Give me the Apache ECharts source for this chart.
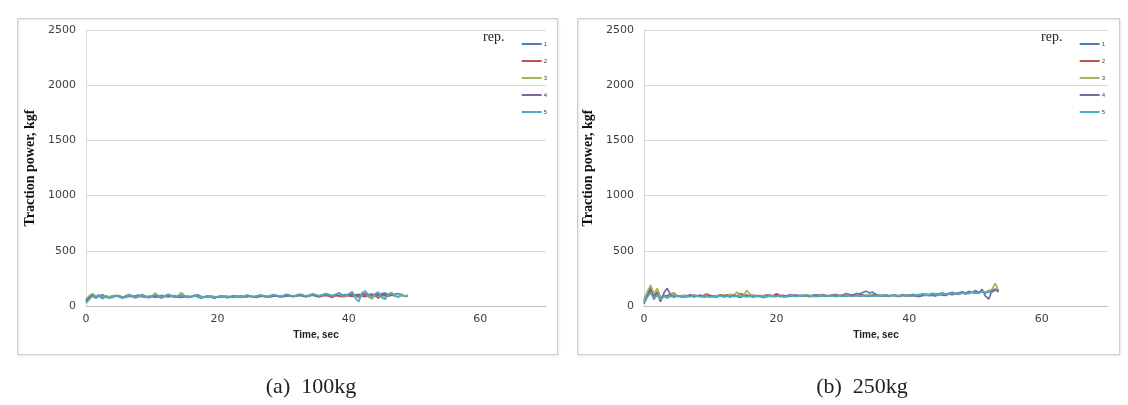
<!DOCTYPE html>
<html><head><meta charset="utf-8">
<script src="https://cdn.jsdelivr.net/npm/echarts@6/dist/echarts.min.js"></script>
<style>html,body{margin:0;padding:0;background:#fff}#c{width:1128px;height:405px}</style>
</head><body><div id="c"></div>
<script>
const seriesNames = ['1','2','3','4','5'];
const colors = ['#4F81BD','#C0504D','#9BBB59','#8064A2','#4BACC6'];
const yTicks = [0,500,1000,1500,2000,2500];
const xTicks = [0,20,40,60];
const captions = ['(a)  100kg','(b)  250kg'];

// time step of the readings, seconds
const step = 0.5;

// Panel (a) 100kg : values every 0.5 s starting at 0 s
const a1 = [40,72,96,78,88,101,83,79,92,86,95,81,77,88,84,93,99,85,80,87,91,78,84,96,89,82,86,94,80,77,85,90,83,95,102,87,81,84,90,86,79,83,92,88,84,80,86,91,85,82,88,84,79,86,90,87,83,89,93,86,84,90,95,88,92,97,91,87,94,99,93,90,96,101,95,92,98,94,100,104,97,93,101,106,98,95,103,108,99,94,112,118,100,96,106,113,102];
const a2 = [50,88,108,84,97,75,90,83,78,94,86,72,89,98,91,80,85,96,88,76,84,93,82,74,87,97,90,81,83,95,92,79,85,92,87,77,82,88,84,75,81,87,85,79,83,90,86,80,84,94,89,82,87,96,91,84,88,99,93,85,90,98,94,86,91,97,90,84,93,101,89,82,91,95,87,78,96,90,85,88,94,87,92,98,90,84,95,100,92,72,104,96,88,100,92];
const a3 = [60,93,112,88,102,80,94,82,86,98,91,78,90,106,95,82,88,101,92,80,86,118,94,82,95,107,96,84,91,122,93,81,87,97,89,78,84,93,87,76,85,91,89,80,87,95,90,83,89,97,93,85,91,99,95,87,93,101,97,89,95,103,98,91,97,99,95,88,99,107,97,91,101,111,95,88,104,116,93,86,109,125,90,74,97,113,82,64,101,118,88,80,106,122,95,84,112,90,100];
const a4 = [45,77,98,72,93,67,85,72,81,91,87,74,85,96,90,76,83,103,89,77,85,95,90,75,87,99,91,81,88,97,87,77,83,91,85,73,79,89,83,71,81,87,84,75,83,91,87,77,85,93,88,79,87,95,90,81,88,97,92,83,91,99,94,85,93,101,96,87,95,103,98,89,101,109,97,91,103,117,99,93,100,108,95,88,104,112,98,86,102,110,96,104,99];
const a5 = [25,60,90,70,100,75,86,72,80,94,88,74,84,98,90,76,82,100,88,74,86,102,86,76,88,104,90,78,86,100,92,80,84,96,86,74,80,92,84,72,82,90,86,76,84,94,88,80,86,98,90,82,88,100,92,84,92,104,96,86,94,106,98,88,96,108,100,90,98,110,102,92,100,112,104,94,106,118,100,90,110,130,70,40,120,135,96,80,110,126,74,62,104,118,90,80,96,86,90];

// Panel (b) 250kg
const b1 = [40,100,150,70,120,60,100,80,92,110,86,95,79,88,101,84,90,97,82,87,93,80,89,99,85,91,83,96,88,78,90,99,86,82,94,89,77,92,100,85,88,95,81,90,103,92,86,97,89,93,84,99,91,87,104,95,90,98,106,94,100,112,103,98,114,108,122,133,118,126,104,97,92,101,88,95,90,86,98,92,89,96,91,85,94,100,93,97,90,104,99,95,108,102,112,106,118,110,121,128,115,124,132,120,138,126,145,128];
const b2 = [60,120,170,90,130,70,85,95,104,120,90,84,97,91,86,100,93,88,96,108,94,89,85,99,92,102,87,96,90,112,104,93,88,97,91,85,95,101,89,94,110,98,92,87,96,90,99,93,88,101,95,90,97,104,92,87,98,93,100,95,89,102,96,91,99,105,97,93,90,98,94,88,96,92,86,95,100,91,97,93,89,99,94,98,104,96,101,108,99,105,112,103,109,117,107,114,121,112,119,126,116,124,131,120,128,136];
const b3 = [50,130,190,110,160,80,90,70,100,118,92,86,95,81,90,99,87,93,84,97,91,80,94,88,99,85,110,92,126,96,88,142,104,93,86,95,90,99,84,92,88,96,91,83,94,90,98,86,93,100,92,87,95,104,91,97,89,94,101,96,90,98,93,88,100,95,91,97,102,94,89,96,92,99,94,90,98,93,101,96,92,100,97,104,99,95,103,110,102,107,115,106,112,120,109,117,124,113,121,128,118,126,134,122,140,150,206,140];
const b4 = [20,90,140,60,110,40,120,160,100,80,94,86,79,92,100,85,91,97,83,88,95,90,81,99,87,93,85,96,89,80,92,86,98,84,91,95,82,90,99,88,93,85,96,91,87,100,94,89,97,92,86,95,101,90,97,93,88,99,94,91,96,89,93,100,95,90,98,92,87,96,99,93,89,97,92,100,95,91,98,94,101,97,93,104,99,108,102,113,106,111,118,109,115,124,112,120,128,117,132,122,140,118,150,92,62,138,155,130];
const b5 = [30,80,120,70,100,60,88,76,84,98,87,93,80,89,84,95,88,82,91,86,79,90,85,93,81,88,95,84,90,86,92,83,89,96,85,91,87,82,94,89,86,93,88,84,97,90,86,92,99,88,94,90,85,96,91,87,93,89,84,92,88,95,90,86,93,97,89,94,91,87,95,90,98,93,89,100,95,92,104,98,94,106,101,97,110,104,100,114,107,103,117,111,106,120,113,109,124,117,112,128,120,116,132,124,128,120];

const panelA = [a1,a2,a3,a4,a5];
const panelB = [b1,b2,b3,b4,b5];

function pairs(arr){ return arr.map((v,i)=>[i*step,v]); }

const chart = echarts.init(document.getElementById('c'));
const grids = [
  {left:86, top:30, width:460, height:276},
  {left:644, top:30, width:464, height:276}
];
function xAxis(idx){
  return {gridIndex:idx, type:'value', min:0, max:70, interval:20,
    name:'Time, sec', nameLocation:'middle', nameGap:24,
    nameTextStyle:{fontFamily:'Liberation Sans', fontWeight:'bold', fontSize:10, color:'#222'},
    axisLine:{show:true, lineStyle:{color:'#bfbfbf'}}, axisTick:{show:false},
    axisLabel:{fontFamily:'DejaVu Sans', fontSize:11, color:'#404040', margin:8,
      formatter:v=> xTicks.includes(v)? String(v):''},
    splitLine:{show:false}};
}
function yAxis(idx){
  return {gridIndex:idx, type:'value', min:0, max:2500, interval:500,
    name:'Traction power, kgf', nameLocation:'middle', nameGap:49,
    nameTextStyle:{fontFamily:'Liberation Serif', fontWeight:'bold', fontSize:14, color:'#111'},
    axisLine:{show:true, lineStyle:{color:'#d9d9d9'}}, axisTick:{show:false},
    axisLabel:{fontFamily:'DejaVu Sans', fontSize:11, color:'#404040', margin:10,
      formatter:v=> yTicks.includes(v)? String(v):''},
    splitLine:{show:true, lineStyle:{color:'#d9d9d9'}}};
}
const series = [];
[panelA, panelB].forEach((panel,p)=>{
  panel.forEach((arr,i)=>{
    series.push({type:'line', name:seriesNames[i], xAxisIndex:p, yAxisIndex:p,
      data:pairs(arr), showSymbol:false, symbol:'none', animation:false,
      lineStyle:{width:1.7, color:colors[i]}, itemStyle:{color:colors[i]}});
  });
});
function legend(right){
  return {orient:'vertical', right:right, top:36, itemWidth:20, itemHeight:2, itemGap:11,
    icon:'rect', data:seriesNames, textStyle:{fontSize:6, color:'#404040', padding:[0,0,0,-3]}};
}
chart.setOption({
  animation:false,
  grid:grids,
  xAxis:[xAxis(0), xAxis(1)],
  yAxis:[yAxis(0), yAxis(1)],
  legend:[legend(1128-552), legend(1128-1110)],
  series:series,
  graphic:[
    {type:'rect', shape:{x:17.5,y:18.5,width:540,height:336}, style:{fill:'none', stroke:'#d0d0d0', lineWidth:1, shadowBlur:2, shadowColor:'rgba(0,0,0,0.15)', shadowOffsetX:1, shadowOffsetY:1}, z:-1},
    {type:'rect', shape:{x:577.5,y:18.5,width:542,height:336}, style:{fill:'none', stroke:'#d0d0d0', lineWidth:1, shadowBlur:2, shadowColor:'rgba(0,0,0,0.15)', shadowOffsetX:1, shadowOffsetY:1}, z:-1},
    {type:'text', x:483, y:30, style:{text:'rep.', font:'14px "Liberation Serif"', fill:'#222'}},
    {type:'text', x:1041, y:30, style:{text:'rep.', font:'14px "Liberation Serif"', fill:'#222'}},
    {type:'text', x:311, y:387, style:{text:captions[0], font:'22px "Liberation Serif"', fill:'#222', textAlign:'center', textVerticalAlign:'middle'}},
    {type:'text', x:862, y:387, style:{text:captions[1], font:'22px "Liberation Serif"', fill:'#222', textAlign:'center', textVerticalAlign:'middle'}}
  ]
});
</script></body></html>
